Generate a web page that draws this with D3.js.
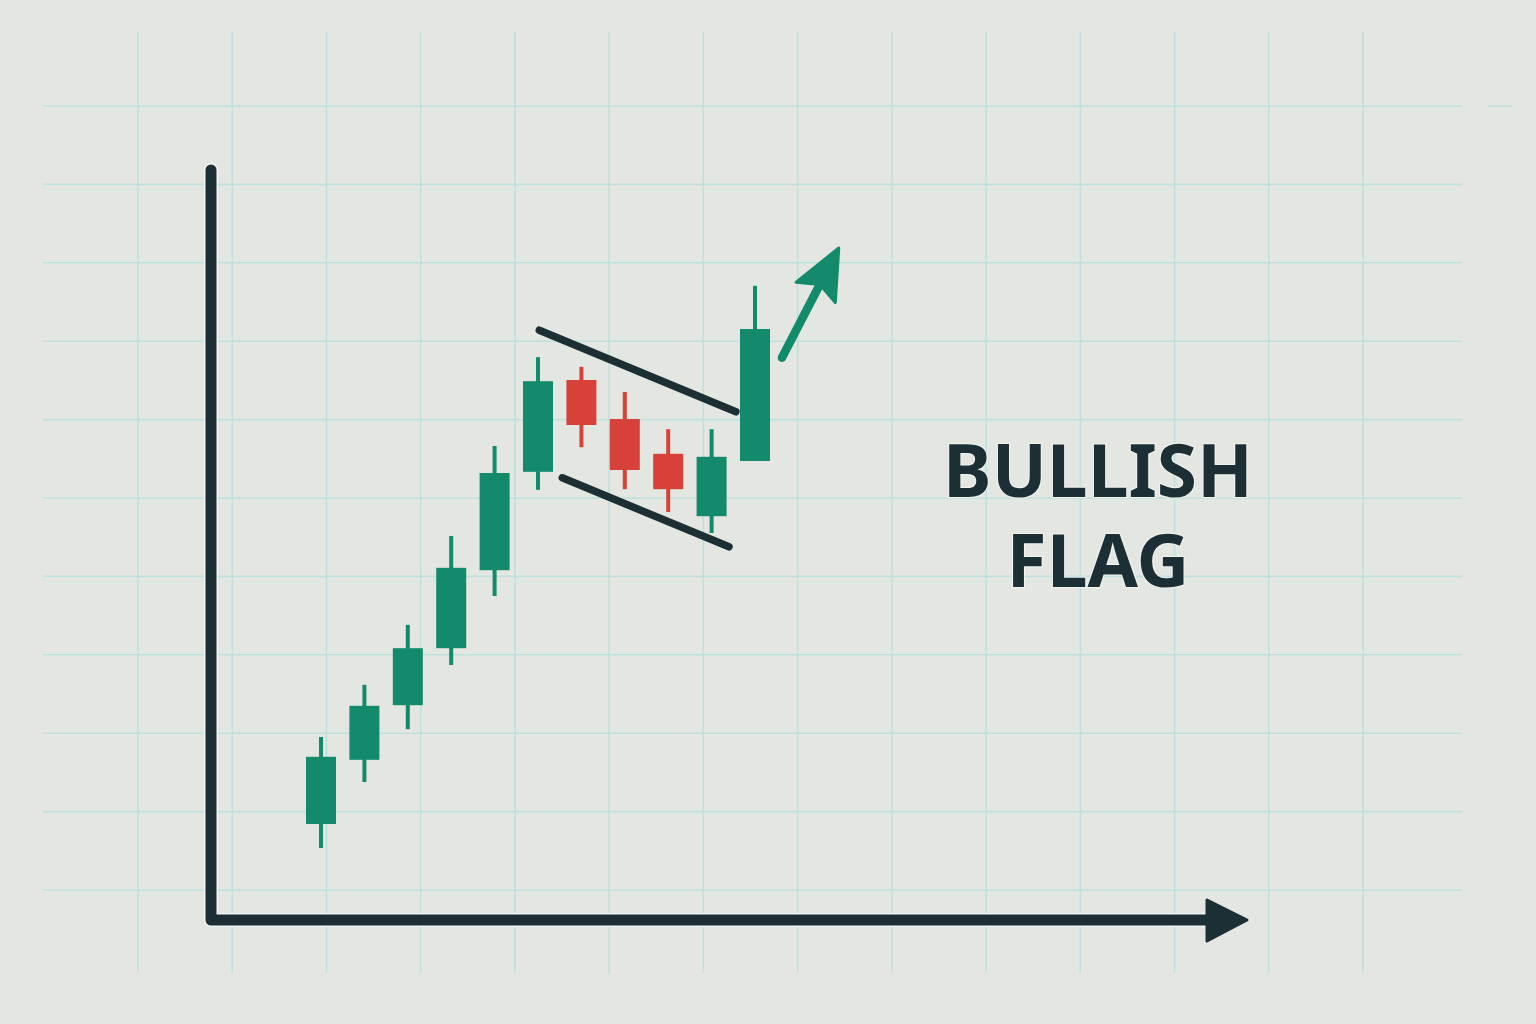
<!DOCTYPE html>
<html>
<head>
<meta charset="utf-8">
<script src="https://cdn.jsdelivr.net/npm/d3@7"></script>
<style>
  html, body { margin: 0; padding: 0; background: #e4e7e1; }
  svg { display: block; }
</style>
</head>
<body>
<svg id="chart" width="1536" height="1024"></svg>
<script>
// candle data (index = session, prices in arbitrary units)
var sessions = [0, 1, 2, 3, 4, 5, 6, 7, 8, 9, 10]
var opens  = [16.0, 26.7, 35.8, 45.3, 58.3, 74.7, 90.0, 83.5, 77.7, 67.3, 76.5]
var closes = [27.2, 35.7, 45.3, 58.7, 74.5, 89.8, 82.5, 75.0, 71.8, 77.2, 98.5]
var highs  = [30.5, 39.2, 49.2, 64.0, 79.0, 93.8, 92.2, 88.0, 81.8, 81.8, 105.7]
var lows   = [12.0, 23.0, 31.8, 42.5, 54.0, 71.7, 78.8, 71.8, 68.0, 64.5, 76.5]

// flag channel (session, price) pairs
var upperFlag = [[5.03, 98.3], [9.56, 84.7]]
var lowerFlag = [[5.56, 73.7], [9.40, 62.2]]
// breakout arrow from / to
var breakout = [[10.62, 93.7], [11.93, 112.0]]

var titleLines = ['BULLISH', 'FLAG']

var green = '#138a6b', red = '#d6413a', ink = '#1b2f35', gridCol = '#bfe1dd'

var svg = d3.select('#chart')

// background grid
var gx = d3.scaleLinear().domain([0, 13]).range([138, 1363])
var gy = d3.scaleLinear().domain([0, 10]).range([106, 890])
var grid = svg.append('g').attr('stroke', gridCol).attr('stroke-width', 1.6)
grid.selectAll('line.v').data(d3.range(14)).enter().append('line')
    .attr('class', 'v')
    .attr('x1', function(d){ return gx(d) }).attr('x2', function(d){ return gx(d) })
    .attr('y1', 32).attr('y2', 973)
grid.selectAll('line.h').data(d3.range(11)).enter().append('line')
    .attr('class', 'h')
    .attr('x1', 43).attr('x2', 1462)
    .attr('y1', function(d){ return gy(d) }).attr('y2', function(d){ return gy(d) })
grid.append('line').attr('x1', 1488).attr('x2', 1512).attr('y1', 106).attr('y2', 106)

// scales
var x = d3.scaleLinear().domain([0, 10]).range([321, 755])
var y = d3.scaleLinear().domain([0, 125]).range([920, 170])
var bodyW = 30

// axes
var axes = svg.append('g')
axes.append('path')
    .attr('d', 'M211,170 L211,920 L1212,920')
    .attr('fill', 'none').attr('stroke', '#f3f5f1').attr('stroke-width', 14)
    .attr('stroke-linecap', 'round').attr('stroke-linejoin', 'round')
axes.append('path')
    .attr('d', 'M211,170 L211,920 L1212,920')
    .attr('fill', 'none').attr('stroke', ink).attr('stroke-width', 11)
    .attr('stroke-linecap', 'round').attr('stroke-linejoin', 'round')
axes.append('path')
    .attr('d', 'M1207,900 L1247,920 L1207,941 Z')
    .attr('fill', ink).attr('stroke', ink).attr('stroke-width', 3).attr('stroke-linejoin', 'round')

// candles
var candles = svg.append('g')
var c = candles.selectAll('g.candle').data(sessions).enter().append('g').attr('class', 'candle')
c.append('line')
    .attr('x1', function(i){ return x(i) }).attr('x2', function(i){ return x(i) })
    .attr('y1', function(i){ return y(highs[i]) }).attr('y2', function(i){ return y(lows[i]) })
    .attr('stroke', function(i){ return closes[i] >= opens[i] ? green : red })
    .attr('stroke-width', 4)
c.append('rect')
    .attr('x', function(i){ return x(i) - bodyW / 2 })
    .attr('width', bodyW)
    .attr('y', function(i){ return y(Math.max(opens[i], closes[i])) })
    .attr('height', function(i){ return Math.abs(y(opens[i]) - y(closes[i])) })
    .attr('fill', function(i){ return closes[i] >= opens[i] ? green : red })

// flag channel lines
var line = d3.line().x(function(d){ return x(d[0]) }).y(function(d){ return y(d[1]) })
svg.selectAll('path.flag').data([upperFlag, lowerFlag]).enter().append('path')
    .attr('class', 'flag')
    .attr('d', line)
    .attr('fill', 'none').attr('stroke', ink).attr('stroke-width', 7.5)
    .attr('stroke-linecap', 'round')

// breakout arrow
var ax0 = x(breakout[0][0]), ay0 = y(breakout[0][1])
var ax1 = x(breakout[1][0]), ay1 = y(breakout[1][1])
var ang = Math.atan2(ay1 - ay0, ax1 - ax0)
var headLen = 50, headHalf = 22
var bx = ax1 - headLen * Math.cos(ang), by = ay1 - headLen * Math.sin(ang)
svg.append('line')
    .attr('x1', ax0).attr('y1', ay0).attr('x2', bx + 8 * Math.cos(ang)).attr('y2', by + 8 * Math.sin(ang))
    .attr('stroke', green).attr('stroke-width', 8.5).attr('stroke-linecap', 'round')
svg.append('path')
    .attr('d', 'M' + ax1 + ',' + ay1 +
        'L' + (bx + headHalf * Math.sin(ang)) + ',' + (by - headHalf * Math.cos(ang)) +
        'L' + (bx + 9 * Math.cos(ang)) + ',' + (by + 9 * Math.sin(ang)) +
        'L' + (bx - headHalf * Math.sin(ang)) + ',' + (by + headHalf * Math.cos(ang)) + 'Z')
    .attr('fill', green).attr('stroke', green).attr('stroke-width', 3).attr('stroke-linejoin', 'round')

// title
var title = svg.append('text')
    .attr('class', 'title')
    .attr('text-anchor', 'middle')
    .attr('font-family', 'Noto Sans')
    .attr('font-weight', 700)
    .attr('font-size', '73px')
    .attr('fill', ink)
    .attr('stroke', '#f3f5f1').attr('stroke-width', 2).attr('paint-order', 'stroke')
title.selectAll('tspan').data(titleLines).enter().append('tspan')
    .attr('x', 1098)
    .attr('y', function(d, i){ return 497 + i * 90 })
    .text(function(d){ return d })
</script>
</body>
</html>
